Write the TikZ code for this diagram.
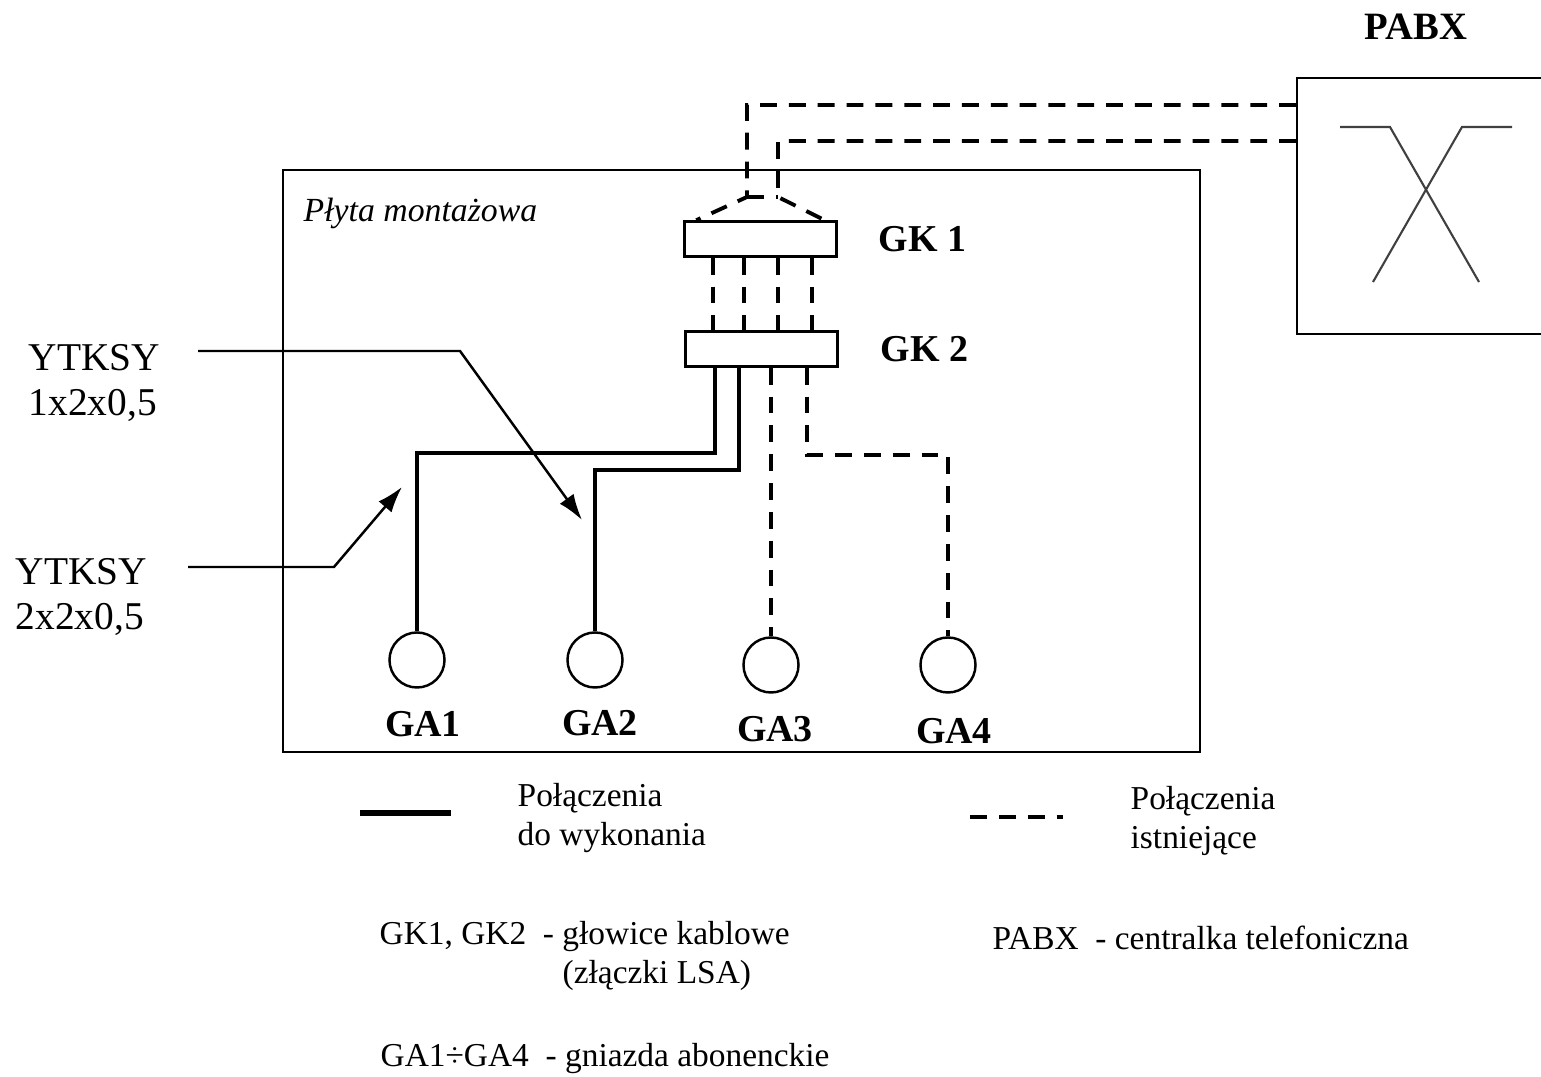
\documentclass[tikz,border=0pt]{standalone}
\usepackage{fontspec}
\setmainfont{Liberation Serif}
\usetikzlibrary{arrows.meta}

\tikzset{
  frame/.style={draw,line width=0.6pt},
  gkbox/.style={draw,rectangle,line width=0.7pt,minimum width=1.52cm,minimum height=0.35cm},
  socket/.style={draw,circle,line width=0.7pt,minimum size=0.55cm},
  newcable/.style={line width=1.2pt},
  oldcable/.style={line width=1.1pt,dash pattern=on 4.8pt off 3.4pt},
  pointer/.style={line width=0.7pt,-{Latex[length=2.6mm,width=1.7mm]}},
  tag/.style={font=\bfseries\fontsize{10.8}{13}\selectfont},
  note/.style={font=\fontsize{9.5}{11}\selectfont},
}

\begin{document}
\begin{tikzpicture}[x=0.01cm,y=-0.01cm,every node/.style={inner sep=0pt}]
\useasboundingbox (0,0) rectangle (1541,1077);

% plyta montazowa
\draw[frame] (283,170) rectangle (1200,752);
\node[anchor=west,font=\itshape\fontsize{9.6}{12}\selectfont] (plyta) at (303,213) {Płyta montażowa};

% glowice kablowe
\node[gkbox] (gk1) at (760.5,239) {};
\node[gkbox] (gk2) at (761.5,349) {};
\node[tag,anchor=west] (gk1name) at (878,239) {GK 1};
\node[tag,anchor=west] (gk2name) at (880,349) {GK 2};

% gniazda abonenckie
\node[socket] (ga1) at (417,660) {};
\node[socket] (ga2) at (595,660) {};
\node[socket] (ga3) at (771,665) {};
\node[socket] (ga4) at (948,665) {};
\node[tag,anchor=base] (ga1name) at (423,737) {GA1};
\node[tag,anchor=base] (ga2name) at (600,736) {GA2};
\node[tag,anchor=base] (ga3name) at (775,742) {GA3};
\node[tag,anchor=base] (ga4name) at (954,744) {GA4};

% centrala
\node[frame,minimum width=2.7cm,minimum height=2.56cm,anchor=north west] (pabx) at (1296,77) {};
\node[tag,font=\bfseries\fontsize{11}{13}\selectfont] (pabxname) at (1416,27) {PABX};
\draw[black!75,line width=0.6pt] (1340,127) -- (1390,127) -- (1479,282);
\draw[black!75,line width=0.6pt] (1512,127) -- (1462,127) -- (1373,282);

% polaczenia istniejace
\coordinate (p1) at (747,105);
\coordinate (p2) at (778,141);
\coordinate (f1) at (747,197);
\coordinate (f2) at (778,197);
\draw[oldcable] (pabx.west |- p1) -- (p1) -- (f1) -- ([xshift=1.3mm]gk1.north west);
\draw[oldcable] (pabx.west |- p2) -- (p2) -- (f2) -- ([xshift=-1.3mm]gk1.north east);
\draw[oldcable] (f1) -- (f2);
\foreach \x in {713,744,778,812}{
  \path (\x,0) coordinate (vx);
  \draw[oldcable] (gk1.south -| vx) -- (gk2.north -| vx);
}
\coordinate (jd) at (807,455);
\draw[oldcable] (gk2.south -| ga3) -- (ga3);
\draw[oldcable] (gk2.south -| jd) -- (jd) -| (ga4);

% polaczenia do wykonania
\coordinate (ja) at (715,453);
\coordinate (jb) at (739,470);
\draw[newcable] (gk2.south -| ja) -- (ja) -| (ga1);
\draw[newcable] (gk2.south -| jb) -- (jb) -| (ga2);

% opisy kabli
\node[anchor=west,align=left,font=\fontsize{11.2}{13}\selectfont] (yt1) at (28,383) {YTKSY\\1x2x0,5};
\node[anchor=west,align=left,font=\fontsize{11.2}{13}\selectfont] (yt2) at (15,597) {YTKSY\\2x2x0,5};
\coordinate (s1) at (198,351);
\coordinate (a1) at (460,351);
\coordinate (t1) at (582,520);
\draw[pointer] (s1) -- (a1) -- (t1);
\coordinate (s2) at (188,567);
\coordinate (a2) at (334,567);
\coordinate (t2) at (402,487);
\draw[pointer] (s2) -- (a2) -- (t2);

% legenda
\coordinate (l1a) at (360,813);
\coordinate (l1b) at (451,813);
\draw[newcable,line width=1.5pt] (l1a) -- (l1b);
\node[note,align=left,anchor=north west] (leg1) at (517,783) {Połączenia\\do wykonania};
\coordinate (l2a) at (970,817);
\coordinate (l2b) at (1063,817);
\draw[oldcable] (l2a) -- (l2b);
\node[note,align=left,anchor=north west] (leg2) at (1130,786) {Połączenia\\istniejące};

\node[note,anchor=base west] (leggk) at (379,945) {GK1, GK2~~- głowice kablowe};
\node[note,anchor=base west] (leglsa) at (562,984) {(złączki LSA)};
\node[note,anchor=base west] (legpabx) at (992,950) {PABX~~- centralka telefoniczna};
\node[note,anchor=base west] (legga) at (380,1067) {GA1÷GA4~~- gniazda abonenckie};
\end{tikzpicture}
\end{document}
